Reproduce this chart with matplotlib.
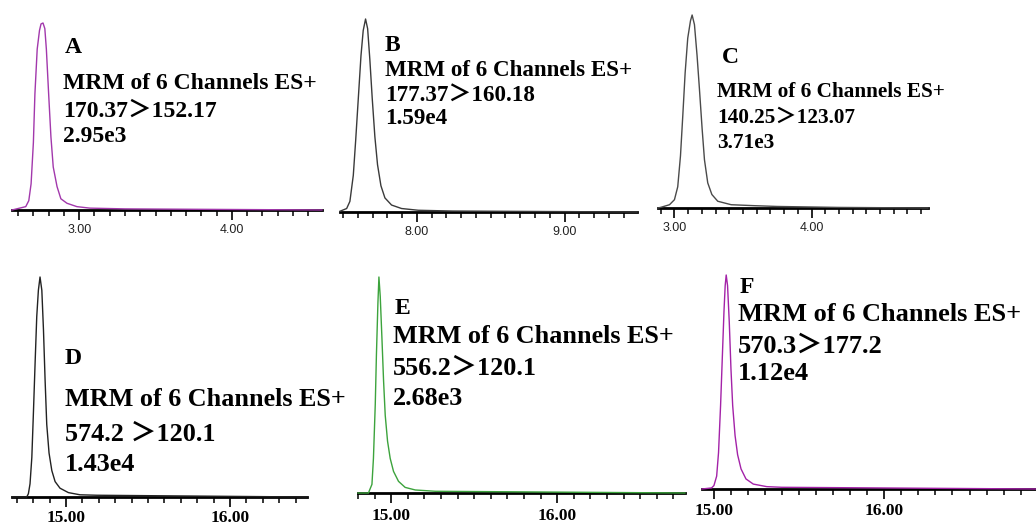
import matplotlib.pyplot as plt
from matplotlib.ticker import MultipleLocator, FormatStrFormatter

W, H = 1036, 530

# Панель A: 170.37 > 152.17, время (мин) и интенсивность (% от пика)
a_time = [2.56, 2.65, 2.67, 2.685, 2.70, 2.71, 2.725, 2.74, 2.75, 2.763, 2.775, 2.785,
          2.80, 2.815, 2.83, 2.855, 2.88, 2.92, 2.985, 3.07, 3.30, 3.50, 4.59]
a_int = [0, 1.8, 5, 14, 36, 62, 86, 96, 99.5, 100, 97, 86, 62, 39, 23, 12.5, 6, 3.6,
         1.8, 1.0, 0.6, 0.5, 0]

# Панель B: 177.37 > 160.18
b_time = [7.48, 7.525, 7.547, 7.57, 7.586, 7.604, 7.622, 7.637, 7.653, 7.667, 7.682,
          7.698, 7.716, 7.734, 7.757, 7.784, 7.829, 7.897, 8.01, 8.24, 9.49]
b_int = [0.4, 1.8, 5.5, 19, 37, 59, 81, 94, 100, 95, 79, 59, 39, 24.5, 13.6, 7.3, 3.6,
         1.8, 0.9, 0.5, 0]

# Панель C: 140.25 > 123.07
c_time = [2.88, 2.903, 2.964, 3.00, 3.024, 3.044, 3.061, 3.078, 3.097, 3.117, 3.129,
          3.146, 3.165, 3.182, 3.202, 3.219, 3.243, 3.273, 3.316, 3.414, 3.584, 3.75,
          4.20, 4.85]
c_int = [0, 0.4, 1.7, 4.3, 11, 27, 48, 70, 88, 97, 100, 95, 79, 62, 41, 25, 13, 7, 3.5,
         1.7, 1.2, 0.8, 0.3, 0]

# Панель D: 574.2 > 120.1
d_time = [14.67, 14.76, 14.77, 14.78, 14.791, 14.801, 14.811, 14.821, 14.831, 14.841,
          14.852, 14.862, 14.872, 14.882, 14.896, 14.913, 14.933, 14.963, 15.014,
          15.085, 15.187, 16.47]
d_int = [0, 0, 1.5, 6, 18, 39, 61, 82, 94, 100, 94, 76, 53, 33, 20, 12, 7, 4, 2, 1, 0.8, 0]

# Панель E: 556.2 > 120.1
e_time = [14.80, 14.863, 14.867, 14.884, 14.893, 14.904, 14.911, 14.92, 14.926, 14.934,
          14.944, 14.954, 14.964, 14.978, 14.994, 15.014, 15.044, 15.084, 15.145,
          15.265, 16.77]
e_int = [0, 0, 0.8, 4, 16, 41, 64, 88, 100, 91, 72, 52, 36, 24, 16, 10, 5.4, 2.6, 1.4,
         0.8, 0]

# Панель F: 570.3 > 177.2
f_time = [14.93, 14.986, 15.00, 15.016, 15.027, 15.039, 15.049, 15.059, 15.066, 15.072,
          15.08, 15.09, 15.10, 15.11, 15.124, 15.139, 15.159, 15.188, 15.231, 15.31,
          15.398, 16.89]
f_int = [0, 0.5, 1.6, 6, 17, 39, 61, 83, 95, 100, 95, 78, 56, 39, 25, 16, 9.4, 4.7,
         2.3, 1.1, 0.8, 0]

letters = ["A", "B", "C", "D", "E", "F"]
transitions = ["170.37\uff1e152.17", "177.37\uff1e160.18", "140.25\uff1e123.07",
               "574.2 \uff1e120.1", "556.2\uff1e120.1", "570.3\uff1e177.2"]
maxima = ["2.95e3", "1.59e4", "3.71e3", "1.43e4", "2.68e3", "1.12e4"]
major_ticks = [[3, 4], [8, 9], [3, 4], [15, 16], [15, 16], [15, 16]]

times = [a_time, b_time, c_time, d_time, e_time, f_time]
ints = [a_int, b_int, c_int, d_int, e_int, f_int]
colors = ["#a238ac", "#3a3a3a", "#4a4a4a", "#222222", "#3ca33c", "#a322a8"]

# расположение панелей в пикселях: левый край, правый край, базовая линия, вершина пика
boxes = [(12, 322, 210, 23), (340, 637, 212, 19), (658, 928, 208, 15),
         (12, 307, 497, 277), (358, 685, 493, 277), (702, 1036, 489, 275)]
# положение подписей: буква (x, y), строки (x, y1, y2, y3), размер шрифта
text_pos = [((65, 37), (63, 73, 101, 126), 17.0),
            ((385, 35), (385, 60, 85, 108), 16.6),
            ((722, 47), (717, 82, 108, 133), 15.3),
            ((65, 348), (65, 388, 423, 453), 18.8),
            ((395, 298), (393, 325, 357, 387), 18.8),
            ((740, 277), (738, 303, 335, 362), 19.0)]
label_pads = [3, 3, 3, 2.5, 3.5, 3]

serif = ["Liberation Serif", "Noto Sans CJK SC", "DejaVu Serif"]

fig = plt.figure(figsize=(W / 100, H / 100), dpi=100)

for i in range(6):
    x0, x1, yb, yt = boxes[i]
    ax = fig.add_axes([x0 / W, 1 - yb / H, (x1 - x0) / W, (yb - yt) / H])
    ax.plot(times[i], ints[i], color=colors[i], lw=1.0, clip_on=False, zorder=3)
    ax.set_xlim(times[i][0], times[i][-1])
    ax.set_ylim(0, 100)
    for s in ["top", "right", "left"]:
        ax.spines[s].set_visible(False)
    ax.spines["bottom"].set_linewidth(2.0)
    ax.spines["bottom"].set_zorder(2)
    ax.set_yticks([])
    ax.set_xticks(major_ticks[i])
    ax.xaxis.set_minor_locator(MultipleLocator(0.1))
    ax.xaxis.set_major_formatter(FormatStrFormatter("%.2f"))
    ax.tick_params(axis="x", which="major", length=7, width=1.2, pad=label_pads[i])
    ax.tick_params(axis="x", which="minor", length=4.5, width=1.1)
    if i < 3:
        for lab in ax.get_xticklabels():
            lab.set_fontfamily("Liberation Sans")
            lab.set_fontsize(9)
            lab.set_color("#222222")
    else:
        for lab in ax.get_xticklabels():
            lab.set_fontfamily("Liberation Serif")
            lab.set_fontweight("bold")
            lab.set_fontsize(12.5)
    ax.patch.set_alpha(0)

    (lx, ly), (tx, t1, t2, t3), fs = text_pos[i]
    fig.text(lx / W, 1 - ly / H, letters[i], family=serif, weight="bold",
             fontsize=17, va="top", ha="left")
    fig.text(tx / W, 1 - t1 / H, "MRM of 6 Channels ES+", family=serif,
             weight="bold", fontsize=fs, va="top", ha="left")
    fig.text(tx / W, 1 - t2 / H, transitions[i], family=serif, weight="bold",
             fontsize=fs, va="top", ha="left")
    fig.text(tx / W, 1 - t3 / H, maxima[i], family=serif, weight="bold",
             fontsize=fs, va="top", ha="left")

fig.savefig("out.png", dpi=100)
